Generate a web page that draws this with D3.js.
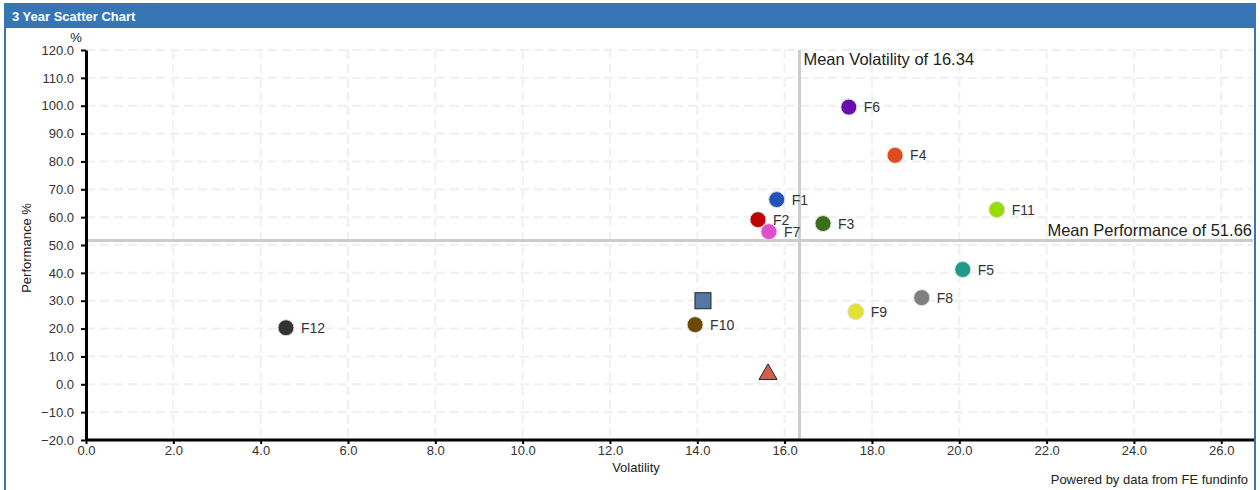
<!DOCTYPE html>
<html><head><meta charset="utf-8">
<script src="https://cdn.jsdelivr.net/npm/d3@7"></script>
<style>body{margin:0;background:#fff;font-family:"Liberation Sans",Arial,sans-serif;}</style>
</head><body>
<svg id="c" width="1260" height="490"></svg>
<script>
const funds = ["F1","F2","F3","F4","F5","F6","F7","F8","F9","F10","F11","F12"];
const volatility = [15.82,15.39,16.88,18.53,20.08,17.47,15.64,19.14,17.63,13.95,20.86,4.58];
const performance = [66.3,59.1,57.7,82.2,41.2,99.5,54.8,31.1,26.1,21.4,62.7,20.3];
const colors = ["#2452b8","#c00000","#3b6e1a","#e04a1f","#1f9a88","#6a0dad","#e04fd0","#7f7f7f","#e2e236","#6b4a00","#99dd00","#333333"];
const sectorPoint = {vol:14.13, perf:30.0};
const indexPoint = {vol:15.62, perf:3.6};
const meanVol = 16.34, meanPerf = 51.66;
const xTicks = d3.range(0, 26.1, 2);
const yTicks = d3.range(-20, 120.1, 10);

const svg = d3.select("#c");
const blue = "#3776b5";
// frame
svg.append("rect").attr("x",5).attr("y",4).attr("width",1250).attr("height",490).attr("fill","#fff").attr("stroke",blue).attr("stroke-width",2);
svg.append("rect").attr("x",4).attr("y",3).attr("width",1252).attr("height",25).attr("fill",blue);
svg.append("text").attr("x",12).attr("y",21).attr("fill","#fff").attr("font-weight","bold").attr("font-size",13).text("3 Year Scatter Chart");

const x = d3.scaleLinear().domain([0, 26.75]).range([86, 1254]);
const y = d3.scaleLinear().domain([-20, 120]).range([440, 50]);

const g = svg.append("g");
// grid
g.selectAll(".vg").data(xTicks.filter(d=>d>0)).enter().append("line")
  .attr("x1",d=>x(d)).attr("x2",d=>x(d)).attr("y1",y(120)).attr("y2",y(-20))
  .attr("stroke","#f0f0f0").attr("stroke-width",2).attr("stroke-dasharray","9,5");
g.selectAll(".hg").data(yTicks.filter(d=>d>-20)).enter().append("line")
  .attr("x1",x(0)).attr("x2",1253).attr("y1",d=>y(d)).attr("y2",d=>y(d))
  .attr("stroke","#f0f0f0").attr("stroke-width",2).attr("stroke-dasharray","9,5");

// mean lines
g.append("line").attr("x1",x(meanVol)).attr("x2",x(meanVol)).attr("y1",y(120)).attr("y2",y(-20)).attr("stroke","#cccccc").attr("stroke-width",3);
g.append("line").attr("x1",x(0)).attr("x2",1253).attr("y1",y(meanPerf)).attr("y2",y(meanPerf)).attr("stroke","#cccccc").attr("stroke-width",3);
g.append("text").attr("x",x(meanVol)+4).attr("y",y(120)+15).attr("font-size",16.5).attr("fill","#222").text("Mean Volatility of " + meanVol.toFixed(2));
g.append("text").attr("x",1252).attr("y",y(meanPerf)-4).attr("text-anchor","end").attr("font-size",16.5).attr("fill","#222").text("Mean Performance of " + meanPerf.toFixed(2));

// axes
const xAxis = d3.axisBottom(x).tickValues(xTicks).tickFormat(d3.format(".1f")).tickSize(4).tickSizeOuter(0);
const yAxis = d3.axisLeft(y).tickValues(yTicks).tickFormat(d3.format(".1f")).tickSize(5).tickSizeOuter(0);
const xa = svg.append("g").attr("transform",`translate(0,${y(-20)})`).call(xAxis);
const ya = svg.append("g").attr("transform",`translate(${x(0)},0)`).call(yAxis);
[xa,ya].forEach(a=>{
  a.select(".domain").attr("stroke","#000").attr("stroke-width",3);
  a.selectAll(".tick line").attr("stroke","#000").attr("stroke-width",2);
  a.selectAll("text").attr("font-family","Liberation Sans, Arial, sans-serif").attr("font-size",13).attr("fill","#333");
});
xa.selectAll("text").attr("y",6).attr("dy","0.71em");
ya.selectAll("text").attr("x",-12);
xa.select(".domain").attr("d",`M${x(0)},0H1254`);

svg.append("text").attr("x",76).attr("y",42).attr("text-anchor","middle").attr("font-size",13).attr("fill","#222").text("%");
svg.append("text").attr("transform","translate(31,248) rotate(-90)").attr("text-anchor","middle").attr("font-size",13).attr("fill","#222").text("Performance %");
svg.append("text").attr("x",636).attr("y",472).attr("text-anchor","middle").attr("font-size",13).attr("fill","#222").text("Volatility");
svg.append("text").attr("x",1248).attr("y",484).attr("text-anchor","end").attr("font-size",13).attr("fill","#222").text("Powered by data from FE fundinfo");

// points
const pts = funds.map((f,i)=>({f, v:volatility[i], p:performance[i], c:colors[i]}));
const pg = svg.append("g");
pg.selectAll("circle").data(pts).enter().append("circle")
  .attr("cx",d=>x(d.v)).attr("cy",d=>y(d.p)).attr("r",8)
  .attr("fill",d=>d.c).attr("stroke","#ddd").attr("stroke-width",1);
pg.selectAll("text").data(pts).enter().append("text")
  .attr("x",d=>x(d.v)+15).attr("y",d=>y(d.p)+5).attr("font-size",14).attr("fill","#333").text(d=>d.f);

// sector square
const sx = x(sectorPoint.vol), sy = y(sectorPoint.perf);
pg.append("rect").attr("x",sx-8).attr("y",sy-8).attr("width",16).attr("height",16).attr("fill","#5676a8").attr("stroke","#222").attr("stroke-width",1);
// index triangle
const tx = x(indexPoint.vol), ty = y(indexPoint.perf);
pg.append("path").attr("d",d3.symbol().type(d3.symbolTriangle).size(140)()).attr("transform",`translate(${tx},${ty})`)
  .attr("fill","#d2604f").attr("stroke","#222").attr("stroke-width",1);
</script>
</body></html>
